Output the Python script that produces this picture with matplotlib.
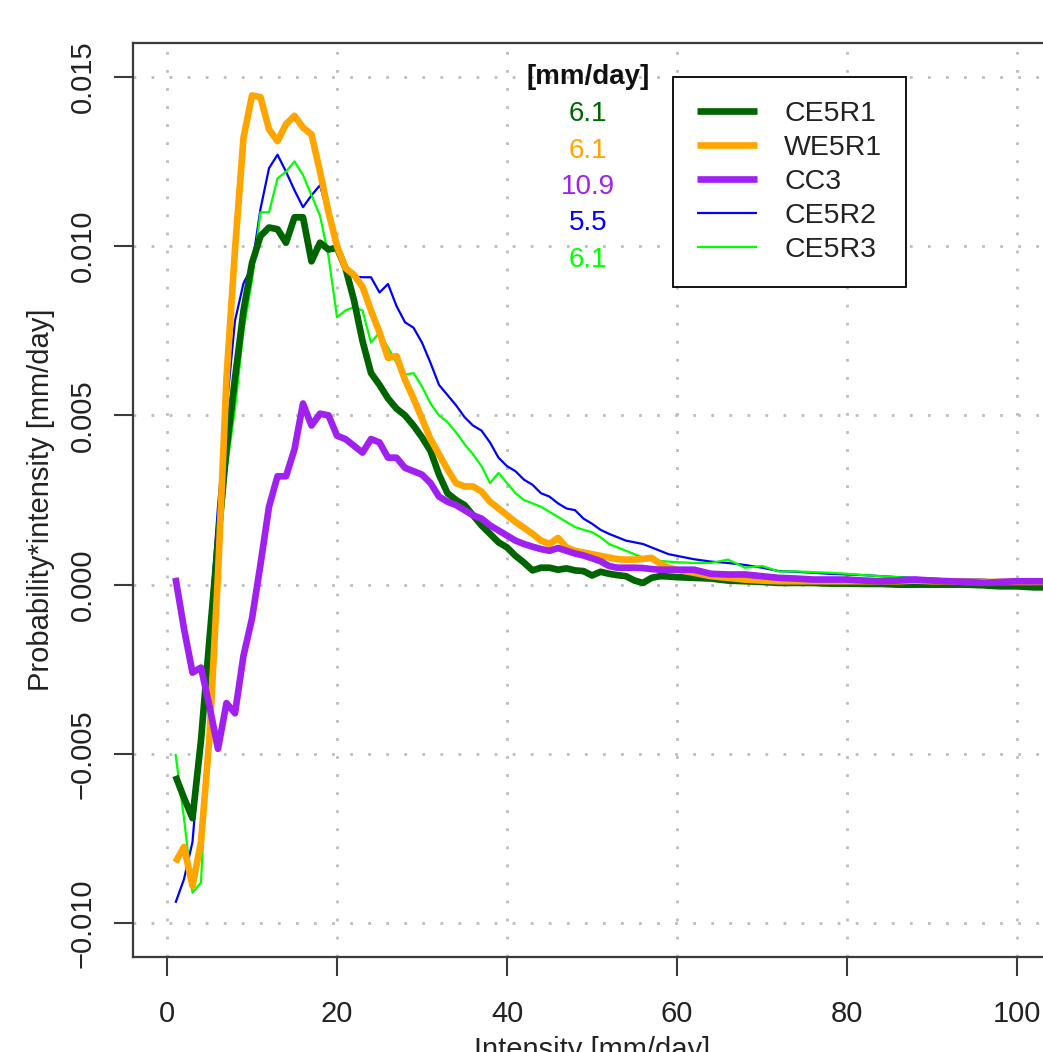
import matplotlib
matplotlib.use("Agg")
import matplotlib.pyplot as plt
import numpy as np

plt.rcParams['font.family'] = ['Liberation Sans', 'DejaVu Sans']

# ---------------- data (values in units of 1e-3 mm/day) ----------------
x_main = list(range(1, 61))
x_tail = list(range(62, 105, 2))
intensity = x_main + x_tail

ce5r1 = [-5.65, -6.3, -6.9, -4.6, -1.6, 1.3, 4.0, 6.1, 8.1, 9.5,
         10.3, 10.55, 10.5, 10.1, 10.85, 10.85, 9.55, 10.1, 9.9, 9.95,
         9.35, 8.4, 7.2, 6.25, 5.9, 5.5, 5.2, 5.0, 4.7, 4.35,
         3.95, 3.25, 2.7, 2.5, 2.35, 2.05, 1.75, 1.5, 1.25, 1.1,
         0.85, 0.65, 0.42, 0.5, 0.5, 0.44, 0.48, 0.42, 0.4, 0.27,
         0.38, 0.32, 0.28, 0.25, 0.12, 0.05, 0.2, 0.25, 0.24, 0.22,
         0.2, 0.18, 0.12, 0.1, 0.08, 0.05, 0.05, 0.05, 0.03, 0.03, 0.02,
         0.02, 0.0, 0.0, 0.0, 0.0, 0.0, -0.02, -0.05, -0.05, -0.08, -0.08]

we5r1 = [-8.2, -7.75, -8.9, -7.6, -4.5, 0.3, 6.1, 9.9, 13.2, 14.45,
         14.4, 13.45, 13.1, 13.6, 13.85, 13.5, 13.3, 12.2, 11.0, 10.0,
         9.35, 9.15, 8.8, 8.1, 7.45, 6.7, 6.75, 6.05, 5.5, 4.9,
         4.3, 3.85, 3.4, 3.0, 2.9, 2.9, 2.75, 2.45, 2.25, 2.05,
         1.85, 1.68, 1.5, 1.3, 1.2, 1.38, 1.1, 1.0, 0.95, 0.9,
         0.85, 0.8, 0.75, 0.74, 0.74, 0.76, 0.79, 0.62, 0.5, 0.44,
         0.35, 0.25, 0.2, 0.15, 0.12, 0.1, 0.1, 0.1, 0.1, 0.1, 0.1,
         0.1, 0.1, 0.12, 0.1, 0.1, 0.08, 0.08, 0.08, 0.08, 0.08, 0.08]

cc3 = [0.2, -1.3, -2.6, -2.45, -3.6, -4.85, -3.5, -3.8, -2.1, -1.0,
       0.6, 2.3, 3.2, 3.2, 4.0, 5.35, 4.7, 5.05, 5.0, 4.4,
       4.3, 4.1, 3.9, 4.3, 4.2, 3.75, 3.75, 3.45, 3.35, 3.25,
       3.0, 2.6, 2.45, 2.35, 2.2, 2.05, 1.95, 1.75, 1.6, 1.45,
       1.3, 1.2, 1.12, 1.05, 1.0, 1.08, 1.0, 0.92, 0.86, 0.78,
       0.69, 0.55, 0.5, 0.5, 0.5, 0.49, 0.46, 0.44, 0.44, 0.44,
       0.44, 0.32, 0.3, 0.3, 0.25, 0.2, 0.18, 0.15, 0.15, 0.15, 0.12,
       0.1, 0.12, 0.15, 0.12, 0.1, 0.08, 0.05, 0.08, 0.1, 0.1, 0.1]

ce5r2 = [-9.4, -8.7, -7.6, -4.6, -1.2, 2.3, 5.2, 7.8, 8.9, 9.4,
         11.1, 12.3, 12.7, 12.2, 11.65, 11.15, 11.5, 11.8, 10.9, 9.9,
         9.3, 9.1, 9.08, 9.08, 8.63, 8.88, 8.23, 7.75, 7.59, 7.15,
         6.55, 5.9, 5.6, 5.3, 4.95, 4.7, 4.55, 4.2, 3.75, 3.5,
         3.35, 3.1, 2.95, 2.7, 2.6, 2.4, 2.25, 2.2, 1.95, 1.8,
         1.62, 1.5, 1.4, 1.3, 1.25, 1.2, 1.1, 1.0, 0.9, 0.85,
         0.75, 0.68, 0.64, 0.58, 0.5, 0.4, 0.38, 0.35, 0.32, 0.3, 0.28,
         0.25, 0.22, 0.2, 0.18, 0.15, 0.15, 0.15, 0.1, 0.1, 0.08, 0.08]

ce5r3 = [-5.0, -6.9, -9.1, -8.8, -3.6, 0.5, 3.4, 5.2, 7.5, 9.0,
         11.0, 11.0, 12.0, 12.2, 12.5, 12.1, 11.5, 10.9, 9.7, 7.9,
         8.1, 8.2, 8.1, 7.15, 7.45, 7.0, 6.55, 6.2, 6.25, 5.85,
         5.35, 5.0, 4.8, 4.5, 4.15, 3.85, 3.5, 3.0, 3.3, 3.0,
         2.7, 2.5, 2.4, 2.3, 2.15, 2.0, 1.85, 1.7, 1.62, 1.55,
         1.4, 1.2, 1.1, 1.0, 0.9, 0.8, 0.75, 0.7, 0.68, 0.66,
         0.64, 0.64, 0.74, 0.5, 0.55, 0.39, 0.39, 0.37, 0.35, 0.32, 0.28,
         0.25, 0.22, 0.18, 0.15, 0.12, 0.1, 0.1, 0.05, 0.0, -0.05, -0.05]

series_names = ["CE5R1", "WE5R1", "CC3", "CE5R2", "CE5R3"]
series_values = [ce5r1, we5r1, cc3, ce5r2, ce5r3]
series_means = ["6.1", "6.1", "10.9", "5.5", "6.1"]
series_colors = ["#006400", "#FFA500", "#A020F0", "#0000FF", "#00FF00"]
series_widths = [4.8, 4.8, 4.8, 1.6, 1.6]
draw_order = [3, 4, 0, 1, 2]

x_ticks = [0, 20, 40, 60, 80, 100]
y_ticks = [-0.010, -0.005, 0.000, 0.005, 0.010, 0.015]
y_tick_labels = ["\u22120.010", "\u22120.005", "0.000", "0.005", "0.010", "0.015"]

# ---------------- figure ----------------
W, H = 1043, 1052
fig = plt.figure(figsize=(W / 100, H / 100), dpi=100)
fig.patch.set_facecolor("white")
ax = fig.add_axes([133 / W, (H - 957) / H, (1051 - 133) / W, (957 - 43) / H])

x = np.array(intensity, dtype=float)
handles = {}
for i in draw_order:
    y = np.array(series_values[i]) * 1e-3
    ln, = ax.plot(x, y, color=series_colors[i], lw=series_widths[i],
                  solid_joinstyle="round", solid_capstyle="butt", zorder=3 + draw_order.index(i))
    handles[i] = ln

ax.set_xlim(-4, 104)
ax.set_ylim(-0.011, 0.016)
ax.set_xticks(x_ticks)
ax.set_xticklabels([str(v) for v in x_ticks])
ax.set_yticks(y_ticks)
ax.set_yticklabels(y_tick_labels)

ax.set_axisbelow(True)
ax.grid(True, color="#bdbdbd", lw=2.0, linestyle=(0, (1.0, 5.5)))

for s in ax.spines.values():
    s.set_linewidth(1.6)
    s.set_color("#3a3a3a")

ax.tick_params(axis="both", direction="out", length=14, width=1.5, color="#3a3a3a",
               labelsize=21, labelcolor="#222222")
ax.tick_params(axis="x", pad=17)
ax.tick_params(axis="y", pad=12, labelrotation=90)
for lab in ax.get_yticklabels():
    lab.set_va("center")

fig.text(592 / W, 1 - 1036 / H, "Intensity [mm/day]", ha="center", va="top",
         fontsize=21, color="#222222")
fig.text(41 / W, 1 - 500 / H, "Probability*intensity [mm/day]", ha="center", va="center",
         rotation=90, fontsize=21, color="#222222")

leg = ax.legend([handles[i] for i in range(5)], series_names,
                loc="upper left", bbox_to_anchor=(673 / W, 1 - 77 / H),
                bbox_transform=fig.transFigure, borderaxespad=0,
                borderpad=0.85, labelspacing=0.28, handlelength=2.1,
                handletextpad=0.95, fancybox=False, edgecolor="black",
                framealpha=1, fontsize=20.5)
leg.get_frame().set_linewidth(1.3)
leg.set_zorder(20)
for t in leg.get_texts():
    t.set_color("#222222")

fig.text(588 / W, 1 - 77 / H, "[mm/day]", ha="center", va="center", fontsize=20,
         fontweight="bold", color="#111111")
row_y = [114, 150.7, 187, 223.5, 260]
for i in range(5):
    fig.text(588 / W, 1 - row_y[i] / H, series_means[i], ha="center", va="center",
             fontsize=20, color=series_colors[i])

fig.savefig("out.png", dpi=100)
